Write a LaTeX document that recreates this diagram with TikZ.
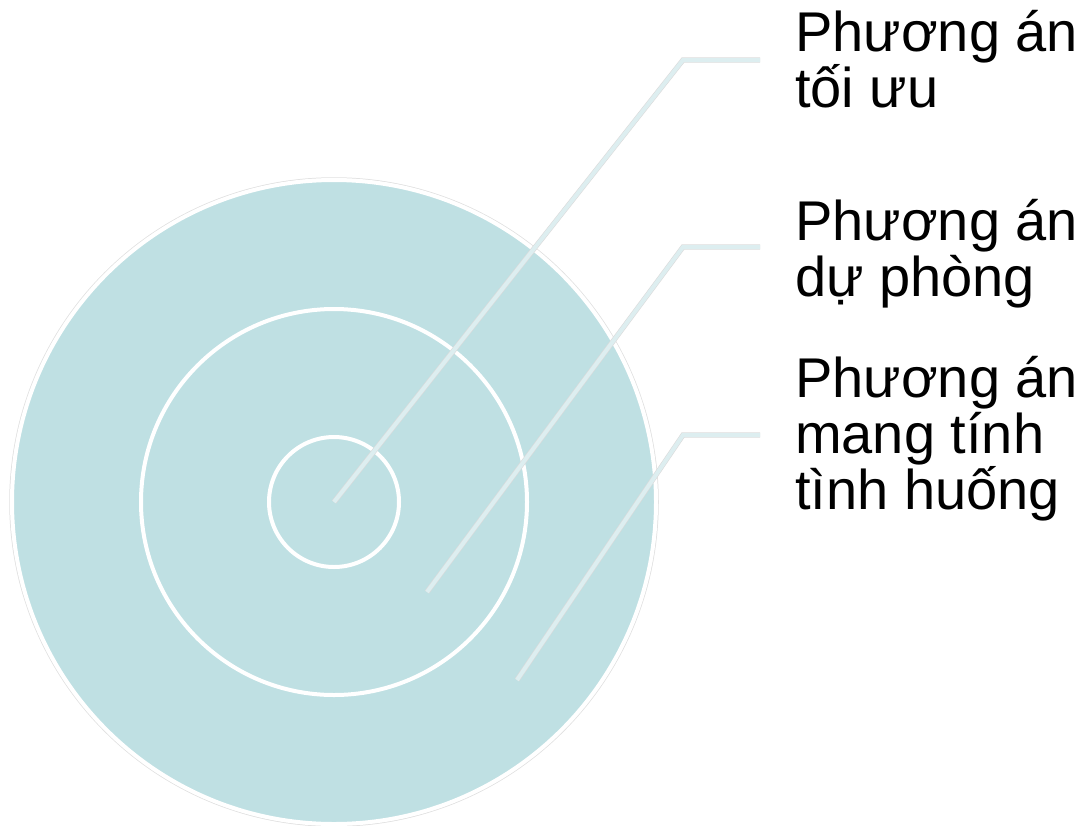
\documentclass[tikz,border=0pt]{standalone}
\usepackage{fontspec}
\setmainfont{Liberation Sans}
\definecolor{ringfill}{RGB}{191,224,227}
\definecolor{leaderc}{RGB}{221,238,240}

\begin{document}
\begin{tikzpicture}[x=1pt, y=-1pt,
  ring/.style={circle, draw=white, line width=4pt, inner sep=0pt},
  leader/.style={draw=black!14, line width=0.6pt, double=leaderc, double distance=4pt},
  lbl/.style={anchor=base west, align=left, inner sep=0pt, font=\fontsize{56}{56}\selectfont}]
\useasboundingbox (0,0) rectangle (1078,825);
\node[ring, fill=ringfill, minimum size=644pt,
      preaction={draw=black!12, line width=5.5pt}] (outer) at (334,502) {};
\node[ring, minimum size=386pt] (middle) at (outer.center) {};
\node[ring, minimum size=130pt] (inner) at (outer.center) {};
% labels (base = last line)
\node[lbl] (best) at (795,107) {Phương án\\tối ưu};
\node[lbl] (backup) at (795,296) {Phương án\\dự phòng};
\node[lbl] (situ) at (795,509) {Phương án\\mang tính\\tình huống};
% leader lines
\coordinate (k1) at (683,60);  \coordinate (e1) at (760,60);
\coordinate (s2) at (427,592); \coordinate (k2) at (683,247); \coordinate (e2) at (760,247);
\coordinate (s3) at (517,680); \coordinate (k3) at (683,435); \coordinate (e3) at (760,435);
\draw[leader] (inner.center) -- (k1) -- (e1);
\draw[leader] (s2) -- (k2) -- (e2);
\draw[leader] (s3) -- (k3) -- (e3);
\end{tikzpicture}
\end{document}
